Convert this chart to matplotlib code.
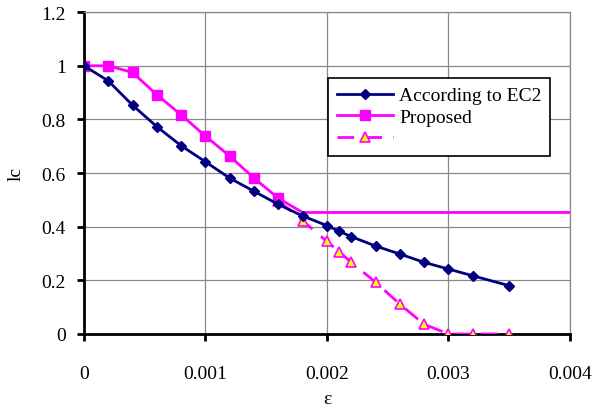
import matplotlib.pyplot as plt
import numpy as np

plt.rcParams['font.family'] = ['Liberation Serif', 'DejaVu Serif']

# According to EC2
eps_ec2 = [0, 0.0002, 0.0004, 0.0006, 0.0008, 0.001, 0.0012, 0.0014, 0.0016, 0.0018,
           0.002, 0.0021, 0.0022, 0.0024, 0.0026, 0.0028, 0.003, 0.0032, 0.0035]
lc_ec2 = [1.0, 0.944, 0.853, 0.773, 0.702, 0.642, 0.581, 0.532, 0.483, 0.44,
          0.404, 0.383, 0.363, 0.328, 0.298, 0.267, 0.242, 0.217, 0.18]

# Proposed
eps_prop = [0, 0.0002, 0.0004, 0.0006, 0.0008, 0.001, 0.0012, 0.0014, 0.0016, 0.0018, 0.004]
lc_prop = [1.0, 1.0, 0.975, 0.892, 0.817, 0.738, 0.663, 0.581, 0.506, 0.453, 0.453]

# third series (dashed, triangles)
eps_tri = [0.0016, 0.0018, 0.002, 0.0021, 0.0022, 0.0024, 0.0026, 0.0028, 0.003, 0.0032, 0.0035]
lc_tri = [0.497, 0.422, 0.345, 0.307, 0.267, 0.193, 0.111, 0.036, 0.0, 0.0, 0.0]

fig = plt.figure(figsize=(5.95, 4.1), dpi=100)
ax = fig.add_axes([0.141, 0.183, 0.817, 0.785])

ax.plot(eps_tri, lc_tri, color='#FF00FF', lw=2, dashes=(6, 4), marker='^', ms=7.5,
        mfc='#FFFF00', mec='#FF00FF', mew=1.2, label=' ', zorder=3)
ax.plot(eps_ec2, lc_ec2, color='#000080', lw=2, marker='D', ms=5.5,
        label='According to EC2', zorder=4)
ax.plot(eps_prop, lc_prop, color='#FF00FF', lw=2, marker='s', ms=6.5,
        markevery=list(range(9)), label='Proposed', zorder=2)

ax.set_xlim(0, 0.004)
ax.set_ylim(0, 1.2)
ax.set_xticks([0, 0.001, 0.002, 0.003, 0.004])
ax.set_xticklabels(['0', '0.001', '0.002', '0.003', '0.004'])
ax.set_yticks([0, 0.2, 0.4, 0.6, 0.8, 1.0, 1.2])
ax.set_yticklabels(['0', '0.2', '0.4', '0.6', '0.8', '1', '1.2'])

ax.grid(True, color='#888888', lw=0.9)
ax.set_axisbelow(True)
for s in ['top', 'right']:
    ax.spines[s].set_color('#888888')
    ax.spines[s].set_linewidth(0.9)
for s in ['left', 'bottom']:
    ax.spines[s].set_color('black')
    ax.spines[s].set_linewidth(2)
ax.tick_params(axis='y', direction='out', length=5, width=2, pad=8, labelsize=14)
ax.tick_params(axis='x', direction='out', length=5, width=2, pad=17, labelsize=14)

ax.set_xlabel('ε', fontsize=14, labelpad=6)
ax.set_ylabel('lc', fontsize=14, labelpad=12)

handles, labels = ax.get_legend_handles_labels()
order = [1, 2, 0]
leg = ax.legend([handles[i] for i in order], [labels[i] for i in order],
                loc='upper left', bbox_to_anchor=(0.502, 0.795), borderaxespad=0,
                fontsize=14, frameon=True, fancybox=False, edgecolor='black',
                framealpha=1, handlelength=2.9, handletextpad=0.3, borderpad=0.45,
                labelspacing=0.2)
leg.get_frame().set_linewidth(1.2)

fig.savefig('out.png', dpi=100)
